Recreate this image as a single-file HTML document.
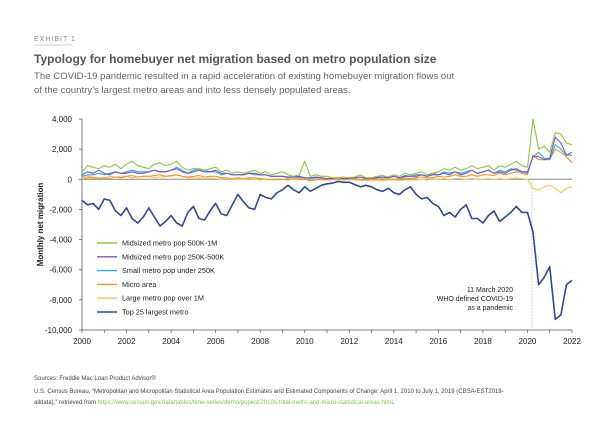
<!DOCTYPE html>
<html><head><meta charset="utf-8"><style>
body{margin:0;background:#fff;width:600px;height:433px;overflow:hidden;font-family:"Liberation Sans",sans-serif}
</style></head><body>
<svg width="600" height="433" xmlns="http://www.w3.org/2000/svg">
<text x="34" y="41" font-size="7" fill="#888" letter-spacing="1">EXHIBIT 1</text>
<line x1="34" y1="45" x2="72" y2="45" stroke="#ccc"/>
<text x="34" y="63" font-size="12" font-weight="bold" fill="#555">Typology for homebuyer net migration based on metro population size</text>
<text x="34" y="79" font-size="9.6" fill="#666">The COVID-19 pandemic resulted in a rapid acceleration of existing homebuyer migration flows out</text>
<text x="34" y="93" font-size="9.6" fill="#666">of the country’s largest metro areas and into less densely populated areas.</text>
<g id="plot"></g>
<text x="34" y="380" font-size="6" fill="#444">Sources: Freddie Mac Loan Product Advisor®</text>
<text x="34" y="393" font-size="6" fill="#444">U.S. Census Bureau, “Metropolitan and Micropolitan Statistical Area Population Estimates and Estimated Components of Change: April 1, 2010 to July 1, 2019 (CBSA-EST2019-</text>
<text x="34" y="404" font-size="6" fill="#444">alldata),” retrieved from <tspan fill="#7cc24a">https://www.census.gov/data/tables/time-series/demo/popest/2010s-total-metro-and-micro-statistical-areas.html</tspan>.</text>
</svg>
<script>
const yTicks=[4000,2000,0,-2000,-4000,-6000,-8000,-10000];
const xTicks=[2000,2002,2004,2006,2008,2010,2012,2014,2016,2018,2020,2022];
const seriesNames=["Midsized metro pop 500K-1M","Midsized metro pop 250K-500K","Small metro pop under 250K","Micro area","Large metro pop over 1M","Top 25 largest metro"];
const green=[500,900,800,700,900,800,1000,700,1000,1200,900,800,700,1000,1100,900,1000,1200,800,600,700,700,600,700,800,500,600,400,500,400,500,600,400,500,300,400,500,300,200,300,1200,200,300,200,200,100,100,150,100,150,300,100,100,200,250,150,300,200,400,300,400,500,300,400,500,700,600,800,600,700,900,700,800,900,600,900,800,1000,1200,900,800,4000,2000,2200,1800,3100,3000,2400,2300];
const purple=[300,500,400,600,400,300,500,400,400,500,400,400,500,600,500,500,600,700,500,400,500,600,500,500,600,400,400,300,300,300,400,400,300,300,200,200,200,150,150,200,100,100,150,100,50,50,100,50,50,100,150,50,50,100,150,100,200,100,200,200,200,300,200,300,300,400,300,500,300,400,600,400,500,600,400,500,400,600,700,500,500,1500,1500,1300,1400,2800,2400,1600,1800];
const blue=[200,300,300,400,300,400,500,400,500,600,500,500,500,600,500,500,600,800,600,400,600,700,600,500,500,300,400,300,300,300,400,300,300,300,200,200,200,100,150,100,100,50,100,100,50,50,100,50,50,100,150,50,100,150,150,100,200,100,250,200,300,300,200,400,300,500,400,500,400,500,600,400,500,600,400,600,500,700,600,500,400,1500,1800,1400,1300,2300,2000,1600,1600];
const orange=[0,100,100,50,100,50,150,100,200,250,150,200,200,250,300,200,250,300,200,150,200,250,150,200,200,100,100,50,100,50,100,100,50,0,-50,0,0,-50,50,0,0,-100,-50,0,-50,0,0,-50,0,50,0,-50,0,0,50,0,0,50,100,50,100,150,100,100,200,150,200,300,200,200,300,200,300,300,250,400,300,400,500,400,300,1600,1300,1300,1300,2000,1800,1500,1100];
const yellow=[100,200,150,100,100,200,150,200,200,100,150,200,200,100,150,200,200,300,200,100,100,100,50,100,50,0,50,0,0,0,50,0,-50,0,0,-50,0,50,0,-50,0,50,0,-50,-50,0,-50,0,0,-50,-100,-50,-100,-50,-100,-50,-50,-100,-50,-50,-50,0,-50,0,0,50,0,50,50,0,50,0,0,50,0,50,0,50,100,50,0,-600,-700,-500,-400,-600,-900,-600,-500];
const top25=[-1400,-1700,-1600,-2000,-1300,-1400,-2100,-2400,-1900,-2600,-2900,-2500,-1900,-2500,-3100,-2800,-2400,-2900,-3100,-2200,-1800,-2600,-2700,-2100,-1600,-2300,-2400,-1700,-1000,-1500,-1900,-2000,-1000,-1200,-1300,-900,-700,-400,-700,-900,-500,-800,-600,-400,-300,-250,-150,-200,-200,-350,-500,-400,-500,-700,-800,-600,-900,-1000,-700,-500,-1000,-1300,-1200,-1600,-1800,-2400,-2200,-2500,-2000,-1700,-2600,-2600,-2900,-2400,-2100,-2800,-2500,-2200,-1800,-2200,-2200,-3500,-7000,-6500,-5800,-9300,-9000,-7000,-6700];
const colors=["#8cc63f","#7e4fc9","#29abe2","#f7941d","#fdc55e","#2e4a94"];
const data=[green,purple,blue,orange,yellow,top25];
const NS="http://www.w3.org/2000/svg";
const X0=82,X1=572,Y0=119,Y1=330;
const xs=t=>X0+(t-2000)/22*(X1-X0);
const ys=v=>Y0+(4000-v)/14000*(Y1-Y0);
const g=document.getElementById('plot');
function mk(tag,attrs,txt){const e=document.createElementNS(NS,tag);for(const k in attrs)e.setAttribute(k,attrs[k]);if(txt!==undefined)e.textContent=txt;g.appendChild(e);return e;}
yTicks.forEach(v=>{const t=mk('text',{x:72,y:ys(v)+3,'font-size':8,'text-anchor':'end',fill:'#222'},v.toLocaleString('en-US'));


const l=mk('line',{x1:X0-3,x2:X0,y1:ys(v),y2:ys(v),stroke:'#555','stroke-width':0.7});

});
const ya=mk('line',{x1:X0,x2:X0,y1:Y0,y2:Y1,stroke:'#555','stroke-width':0.8});


const xa=mk('line',{x1:X0,x2:X1,y1:Y1,y2:Y1,stroke:'#555','stroke-width':0.8});


for(let yr=2000;yr<=2022;yr++){const l=mk('line',{x1:xs(yr),x2:xs(yr),y1:Y1,y2:Y1+3,stroke:'#555','stroke-width':0.7});

}
xTicks.forEach(yr=>{const t=mk('text',{x:xs(yr),y:Y1+14,'font-size':8,'text-anchor':'middle',fill:'#222'},yr);

});
const zl=mk('line',{x1:X0,x2:X1,y1:ys(0),y2:ys(0),stroke:'#888','stroke-width':1});


const yl=mk('text',{x:0,y:0,'font-size':8,'font-weight':'bold','text-anchor':'middle',fill:'#222',transform:`translate(43,${(Y0+Y1)/2}) rotate(-90)`},'Monthly net migration');


const pd=mk('line',{x1:xs(2020.2),x2:xs(2020.2),y1:ys(0),y2:Y1,stroke:'#aaa','stroke-width':0.6,'stroke-dasharray':'1.5,1.5'});


[[ '11 March 2020',292],['WHO defined COVID-19',301],['as a pandemic',310]].forEach(([s,y])=>{const t=mk('text',{x:513,y:y,'font-size':7,'text-anchor':'end',fill:'#222'},s);

});
[4,3,2,1,0,5].forEach(i=>{const arr=data[i];const pts=arr.map((v,j)=>xs(2000+j/4).toFixed(1)+','+ys(v).toFixed(1)).join(' ');
const p=mk('polyline',{points:pts,fill:'none',stroke:colors[i],'stroke-width':i==5?1.6:1.1,'stroke-linejoin':'round'});

});
seriesNames.forEach((n,i)=>{const y=243+i*13.8;
const l=mk('line',{x1:97,x2:117,y1:y,y2:y,stroke:colors[i],'stroke-width':1.4});


const t=mk('text',{x:122,y:y+2.5,'font-size':7.3,fill:'#222'},n);

});
</script>
</body></html>
